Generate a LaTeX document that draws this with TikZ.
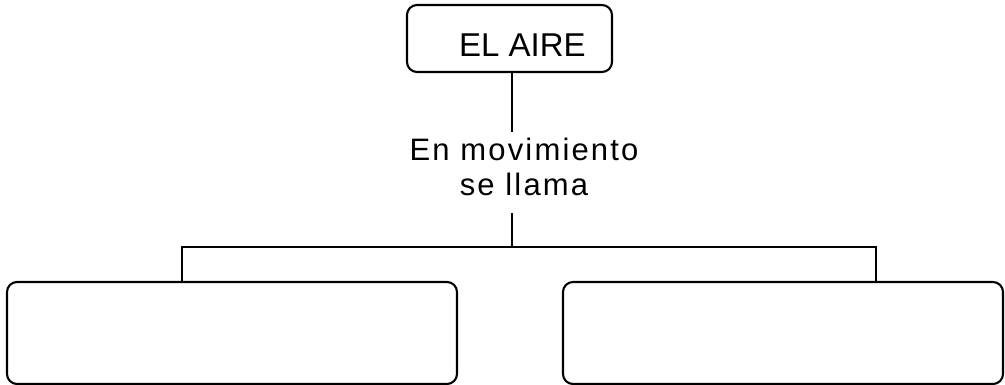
\documentclass[tikz,border=0pt]{standalone}
\usepackage{fontspec}
\setmainfont{Liberation Sans}
\newfontfamily\spacedfont[LetterSpace=7]{Liberation Sans}
\begin{document}
\begin{tikzpicture}[x=1pt,y=-1pt,
  line width=2.1pt,
  box/.style={draw, rounded corners=10pt, inner sep=0pt},
  conn/.style={draw, line width=2.1pt}]
\useasboundingbox (0,0) rectangle (1005,385);
\node[box, minimum width=205pt, minimum height=67pt, text height=37pt, text depth=0pt,
      font=\fontsize{33}{38}\selectfont] (top) at (509.5,38.5) {\hspace*{26pt}EL AIRE};
\node[inner sep=0pt, align=center, font=\spacedfont\fontsize{31}{35}\selectfont] (label) at (524,167) {En movimiento\\se llama};
\node[box, minimum width=450pt, minimum height=102pt] (left) at (232,333) {};
\node[box, minimum width=440pt, minimum height=102pt] (right) at (783,333) {};
\coordinate (hub) at (512,247);
\coordinate (lj) at (182,247);
\coordinate (rj) at (876,247);
\draw[conn] (top.south -| hub) -- ([yshift=5pt]label.north -| hub);
\draw[conn] ([yshift=-16pt]label.south -| hub) -- (hub);
\draw[conn] (left.north -| lj) -- (lj) -- (rj) -- (right.north -| rj);
\end{tikzpicture}
\end{document}
